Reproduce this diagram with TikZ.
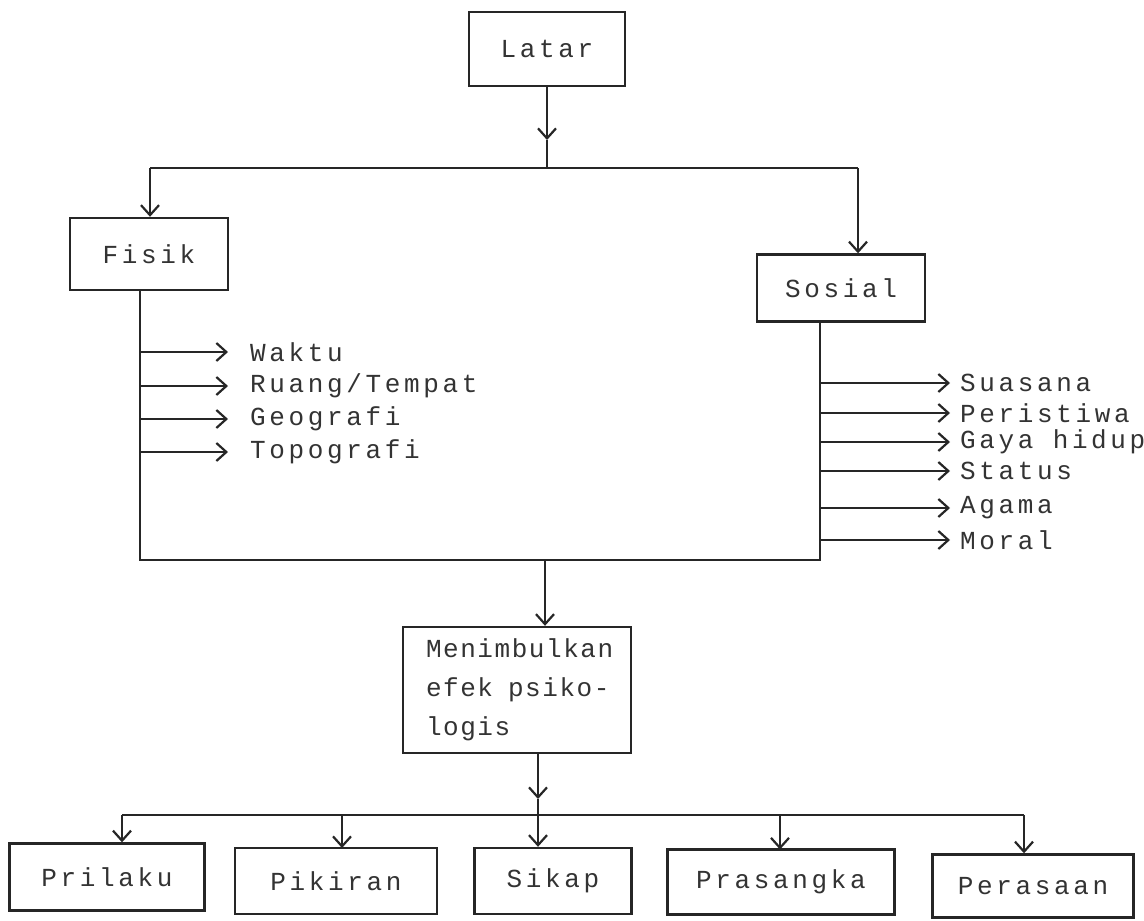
\documentclass[tikz,border=0pt]{standalone}
\usepackage{fontspec}
\setmonofont{Liberation Mono}[LetterSpace=14]
\newfontfamily\menimfont{Liberation Mono}[LetterSpace=6]
\usetikzlibrary{arrows.meta}
\begin{document}
\begin{tikzpicture}[x=1pt,y=-1pt,
  txt/.style={font=\ttfamily\fontsize{26}{39}\selectfont, text=black!80},
  box/.style={txt, draw=black!85, line width=2.4pt, inner sep=0pt},
  lbl/.style={txt, anchor=west, inner sep=0pt},
  conn/.style={line width=2.4pt, draw=black!85},
  arr/.style={conn, -{Straight Barb[length=10pt,width=18pt,line width=2.2pt]}}
]
\useasboundingbox (0,0) rectangle (1144,921);
\fill[white] (0,0) rectangle (1144,921);

% boxes
\node[box, minimum width=156pt, minimum height=74pt] (latar) at (547,49) {Latar};
\node[box, minimum width=158pt, minimum height=72pt] (fisik) at (149,254) {Fisik};
\node[box, minimum width=168pt, minimum height=67pt] (sosial) at (841,288) {Sosial};
\node[box, minimum width=228pt, minimum height=126pt, align=left, text width=210pt,
      font=\menimfont\fontsize{26}{39}\selectfont] (menim) at (517,690) {\hspace*{14pt}Menimbulkan\\\hspace*{14pt}efek\hspace*{15pt}psiko-\\\hspace*{14pt}logis};
\node[box, minimum width=195pt, minimum height=67pt] (prilaku) at (107,877) {Prilaku};
\node[box, minimum width=202pt, minimum height=66pt] (pikiran) at (336,881) {Pikiran};
\node[box, minimum width=157pt, minimum height=66pt] (sikap) at (553,881) {Sikap};
\node[box, minimum width=227pt, minimum height=65pt] (prasangka) at (781,882) {Prasangka};
\node[box, minimum width=201pt, minimum height=63pt] (perasaan) at (1033,886) {Perasaan};

% labels
\node[lbl] (waktu) at (250,352) {Waktu};
\node[lbl] (ruang) at (250,386) {Ruang/Tempat};
\node[lbl] (geo) at (250,419) {Geografi};
\node[lbl] (topo) at (250,452) {Topografi};
\node[lbl] (suasana) at (960,383) {Suasana};
\node[lbl] (peristiwa) at (960,413) {Peristiwa};
\node[lbl] (gaya) at (960,442) {Gaya hidup};
\node[lbl] (status) at (960,471) {Status};
\node[lbl] (agama) at (960,508) {Agama};
\node[lbl] (moral) at (960,540) {Moral};

% junction coordinates
\coordinate (latartip) at (547,140);
\coordinate (jt) at (547,168);
\coordinate (tl) at (150,168);
\coordinate (tr) at (858,168);
\coordinate (bl) at (140,560);
\coordinate (br) at (820,560);
\coordinate (jb) at (545,560);
\coordinate (mtip) at (538,799);
\coordinate (jc) at (538,815);
\coordinate (cl) at (122,815);
\coordinate (cr) at (1024,815);

% top part
\draw[arr] (latar.south) -- (latartip);
\draw[conn] (latartip) -- (jt);
\draw[conn] (tl) -- (tr);
\draw[arr] (tl) -- (tl |- fisik.north);
\draw[arr] (tr) -- (tr |- sosial.north);

% stems and bottom collector
\draw[conn] (bl |- fisik.south) -- (bl) -- (br) -- (br |- sosial.south);
\draw[arr] (jb) -- (jb |- menim.north);

% Fisik items
\foreach \n in {waktu,ruang,geo,topo}
  \draw[arr] (bl |- \n.west) -- ([xshift=-22pt]\n.west);
% Sosial items
\foreach \n in {suasana,peristiwa,gaya,status,agama,moral}
  \draw[arr] (br |- \n.west) -- ([xshift=-10pt]\n.west);

% bottom distribution
\draw[arr] (jc |- menim.south) -- (mtip);
\draw[conn] (mtip) -- (jc);
\draw[conn] (cl) -- (cr);
\draw[arr] (cl) -- (cl |- prilaku.north);
\draw[arr] (342,815) -- (342,848);
\draw[arr] (jc) -- (jc |- sikap.north);
\draw[arr] (780,815) -- (780,849.5);
\draw[arr] (cr) -- (cr |- perasaan.north);
\end{tikzpicture}
\end{document}
